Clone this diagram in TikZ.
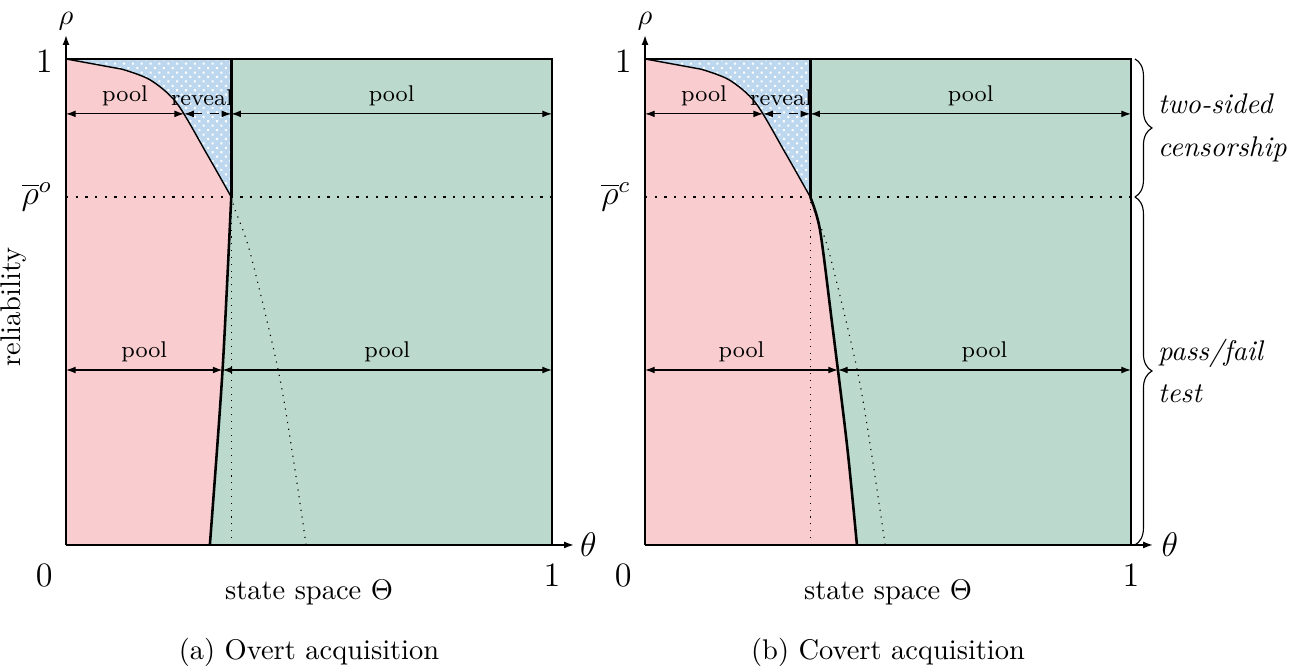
\documentclass[tikz,border=0pt]{standalone}
\usepackage{amsmath}
\usetikzlibrary{arrows.meta, decorations.pathreplacing, patterns.meta}

\definecolor{poolred}{HTML}{F9CCCF}
\definecolor{poolgreen}{HTML}{BCD9CD}
\definecolor{revealblue}{HTML}{BDD7EE}

\begin{document}
\begin{tikzpicture}[x=6cm, y=6cm,
    axis/.style={-{Latex[length=3.4pt,width=2.4pt]}, line width=0.5pt},
    span/.style={{Latex[length=3.4pt,width=2.4pt]}-{Latex[length=3.4pt,width=2.4pt]}, line width=0.4pt},
    boundary/.style={line width=0.9pt},
    rholine/.style={line width=0.8pt, dash pattern=on 0.8pt off 2.6pt},
    guide/.style={line width=0.4pt, dotted},
    lbl/.style={font=\footnotesize, above, inner sep=2.5pt},
    tick/.style={font=\large},
    dotted region/.style={fill=revealblue, postaction={pattern={Dots[distance=2.2pt, angle=45, radius=0.5pt]}, pattern color=white}},
    bracetxt/.style={font=\itshape, anchor=west, align=left}]

\useasboundingbox (-0.1358,-0.249) rectangle (2.5473,1.1213);

% ---------- (a) overt acquisition ----------
\begin{scope}
  \fill[poolgreen] (0,0) rectangle (1,1);
  \path[dotted region] (0,0.716) rectangle (0.34,1);
  \fill[poolred] (0,0) -- (0,1) -- plot[smooth] coordinates {(0.115,0.979) (0.173,0.957) (0.228,0.909) (0.289,0.806) (0.34,0.716)}
    -- plot[smooth] coordinates {(0.34,0.716) (0.322,0.358) (0.296,0)} -- cycle;

  \draw[rholine] (0,0.716) -- (1,0.716);
  \draw[guide] (0.34,0) -- (0.34,0.716);
  \draw[guide] plot[smooth] coordinates {(0.34,0.716) (0.348,0.689) (0.379,0.601) (0.437,0.358) (0.468,0.175) (0.494,0)};

  \draw[line width=0.5pt] (0,1) -- plot[smooth] coordinates {(0.115,0.979) (0.173,0.957) (0.228,0.909) (0.289,0.806) (0.34,0.716)};
  \draw[boundary] (0.34,0.716) -- (0.34,1) -- (0,1);
  \draw[boundary] plot[smooth] coordinates {(0.34,0.716) (0.322,0.358) (0.296,0)};
  \draw[line width=0.4pt] (0.34,1) -- (1,1) -- (1,0);

  \draw[axis] (0,0) -- (1.045,0);
  \draw[axis] (0,0) -- (0,1.049);
  \node[tick] (thetaA) at (1.075,0) {$\theta$};
  \node[inner sep=0pt] (rhoA) at (0,1.078) {$\rho$};
  \node[tick] (zeroA) at (-0.045,-0.062) {0};
  \node[tick] (onexA) at (1,-0.062) {1};
  \node[tick] (oneyA) at (-0.045,0.995) {1};
  \node[tick] (barA) at (-0.06,0.716) {$\overline{\rho}^{o}$};
  \node[rotate=90] (relA) at (-0.107,0.49) {reliability};
  \node (spaceA) at (0.5,-0.097) {state space $\Theta$};
  \node (capA) at (0.5,-0.22) {(a) Overt acquisition};

  \coordinate (aL1) at (0,0.887);
  \coordinate (aC1) at (0.243,0.887);
  \coordinate (aV1) at (0.34,0.887);
  \coordinate (aR1) at (1,0.887);
  \draw[span] (aL1) -- node[lbl] (poolA1) {pool} (aC1);
  \draw[span, dashed] (aC1) -- node[lbl, xshift=-2pt] (revealA) {reveal} (aV1);
  \draw[span] (aV1) -- node[lbl] (poolA2) {pool} (aR1);

  \coordinate (aL2) at (0,0.36);
  \coordinate (aC2) at (0.322,0.36);
  \coordinate (aR2) at (1,0.36);
  \draw[span] (aL2) -- node[lbl] (poolA3) {pool} (aC2);
  \draw[span] (aC2) -- node[lbl] (poolA4) {pool} (aR2);
\end{scope}

% ---------- (b) covert acquisition ----------
\begin{scope}[shift={(1.1914,0)}]
  \fill[poolgreen] (0,0) rectangle (1,1);
  \path[dotted region] (0,0.716) rectangle (0.34,1);
  \fill[poolred] (0,0) -- (0,1) -- plot[smooth] coordinates {(0.115,0.979) (0.173,0.957) (0.228,0.909) (0.289,0.806) (0.34,0.716)}
    -- plot[smooth] coordinates {(0.34,0.716) (0.36,0.648) (0.384,0.463) (0.416,0.202) (0.436,0)} -- cycle;

  \draw[rholine] (0,0.716) -- (1,0.716);
  \draw[guide] (0.34,0) -- (0.34,0.716);
  \draw[guide] plot[smooth] coordinates {(0.34,0.716) (0.348,0.689) (0.379,0.601) (0.437,0.358) (0.468,0.175) (0.494,0)};

  \draw[line width=0.5pt] (0,1) -- plot[smooth] coordinates {(0.115,0.979) (0.173,0.957) (0.228,0.909) (0.289,0.806) (0.34,0.716)};
  \draw[boundary] (0.34,0.716) -- (0.34,1) -- (0,1);
  \draw[boundary] plot[smooth] coordinates {(0.34,0.716) (0.36,0.648) (0.384,0.463) (0.416,0.202) (0.436,0)};
  \draw[line width=0.4pt] (0.34,1) -- (1,1) -- (1,0);

  \draw[axis] (0,0) -- (1.045,0);
  \draw[axis] (0,0) -- (0,1.049);
  \node[tick] (thetaB) at (1.08,0) {$\theta$};
  \node[inner sep=0pt] (rhoB) at (0,1.078) {$\rho$};
  \node[tick] (zeroB) at (-0.045,-0.062) {0};
  \node[tick] (onexB) at (1,-0.062) {1};
  \node[tick] (oneyB) at (-0.045,0.995) {1};
  \node[tick] (barB) at (-0.06,0.716) {$\overline{\rho}^{c}$};
  \node (spaceB) at (0.5,-0.097) {state space $\Theta$};
  \node (capB) at (0.5,-0.22) {(b) Covert acquisition};

  \coordinate (bL1) at (0,0.887);
  \coordinate (bC1) at (0.243,0.887);
  \coordinate (bV1) at (0.34,0.887);
  \coordinate (bR1) at (1,0.887);
  \draw[span] (bL1) -- node[lbl] (poolB1) {pool} (bC1);
  \draw[span, dashed] (bC1) -- node[lbl, xshift=-2pt] (revealB) {reveal} (bV1);
  \draw[span] (bV1) -- node[lbl] (poolB2) {pool} (bR1);

  \coordinate (bL2) at (0,0.36);
  \coordinate (bC2) at (0.397,0.36);
  \coordinate (bR2) at (1,0.36);
  \draw[span] (bL2) -- node[lbl] (poolB3) {pool} (bC2);
  \draw[span] (bC2) -- node[lbl] (poolB4) {pool} (bR2);

  % braces on the right
  \draw[line width=0.4pt, decorate, decoration={brace, amplitude=6pt}] (1.008,1) -- (1.008,0.716);
  \draw[line width=0.4pt, decorate, decoration={brace, amplitude=6pt}] (1.008,0.716) -- (1.008,0);
  \node[bracetxt] (censor) at (1.035,0.858) {two-sided\\[3pt]censorship};
  \node[bracetxt] (passfail) at (1.035,0.358) {pass/fail\\[3pt]test};
\end{scope}

\end{tikzpicture}
\end{document}
